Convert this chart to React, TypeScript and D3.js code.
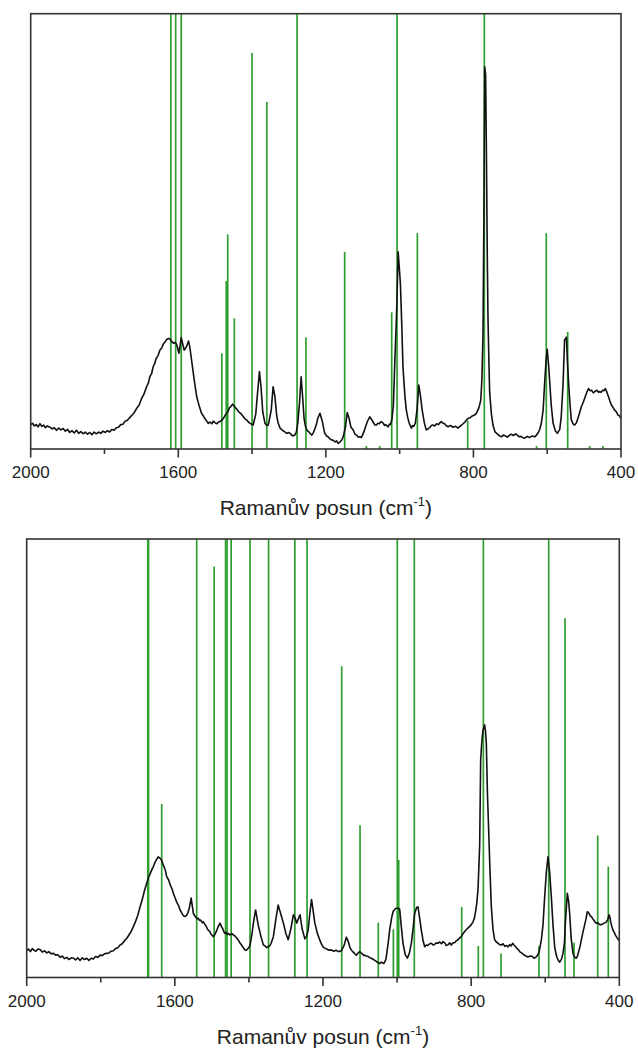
import React from "react";
import * as d3 from "d3";

// ---------- data ----------
const xTicksMajor = [2000, 1600, 1200, 800, 400];
const xTicksMinor = [1800, 1400, 1000, 600];
const axisTitle = "Ramanův posun (cm";
const axisTitleSup = "-1";

// top panel: measured spectrum [wavenumber, intensity]
const topSpectrum: [number, number][] = [
  [2000,5.6],[1995,5.9],[1990,5.3],[1985,5.6],[1980,5.1],[1975,5.8],[1970,5.2],[1965,5.5],[1960,4.9],[1955,5.3],[1948,5.0],[1942,4.6],[1936,4.9],[1930,4.3],[1924,4.8],[1918,4.4],[1912,4.7],[1906,4.1],[1900,4.5],[1894,3.8],[1888,4.2],[1882,3.7],[1876,4.3],[1870,3.6],[1864,4.0],[1858,3.5],[1852,3.9],[1846,3.4],[1840,3.8],[1834,3.3],[1828,3.9],[1822,3.5],[1816,3.9],[1810,3.6],[1804,4.1],[1798,3.8],[1792,4.2],[1786,3.9],[1780,4.5],[1774,4.3],[1768,4.9],[1762,5.0],[1756,5.6],[1750,5.7],[1744,6.4],[1738,6.6],[1732,7.2],[1725,7.8],[1719,8.4],[1713,9.3],[1706,10.1],[1700,11.5],[1693,12.6],[1686,14.3],[1681,15.2],[1677,16.6],[1672,17.4],[1668,18.9],[1664,19.6],[1660,20.8],[1655,21.4],[1650,22.7],[1645,23.2],[1640,24.2],[1636,24.6],[1631,25.2],[1626,25.4],[1622,25.2],[1617,24.6],[1613,24.3],[1608,24.5],[1604,23.9],[1598,22],[1592,25.6],[1584,22.7],[1578,23.5],[1572,24.8],[1568,23],[1564,20.4],[1557,16],[1550,12],[1543,9.8],[1537,8.2],[1532,7.6],[1528,7],[1523,6.4],[1519,5.9],[1514,6.2],[1509,5.8],[1505,6.4],[1500,6.0],[1495,5.8],[1491,6.2],[1487,6.3],[1482,6.6],[1478,7],[1474,7.6],[1469,8.2],[1465,8.7],[1461,9.5],[1457,9.8],[1453,10.3],[1449,9.9],[1445,9.5],[1441,9.1],[1437,8.6],[1431,8.2],[1425,7.6],[1420,7.0],[1415,6.7],[1410,6.2],[1405,5.9],[1401,5.7],[1397,5.5],[1390,8],[1385,13],[1380,17.8],[1376,14.5],[1371,8.5],[1365,5.9],[1360,5.4],[1356,5.5],[1348,9],[1343,14.3],[1338,12],[1333,7.5],[1329,5.9],[1324,4.8],[1318,4.3],[1312,4.0],[1306,3.6],[1300,3.8],[1295,3.4],[1290,3.0],[1284,3.2],[1280,3.9],[1276,6],[1271,11],[1267,16.6],[1263,12],[1259,7],[1255,5.1],[1251,4.3],[1247,4],[1242,3.5],[1238,3.2],[1234,3.7],[1230,4.6],[1226,5.5],[1222,7],[1216,8.2],[1210,6.5],[1206,4.8],[1203,3.6],[1198,3.0],[1194,2.8],[1190,2.4],[1185,2.1],[1180,2.0],[1175,1.6],[1171,1.9],[1167,1.3],[1163,1.5],[1160,1.8],[1156,2.2],[1153,2.8],[1147,5],[1142,8.4],[1137,7],[1132,5],[1126,4.4],[1121,3.4],[1117,3.2],[1112,2.7],[1108,2.8],[1104,2.6],[1100,3.3],[1095,4.4],[1088,6.2],[1081,7.4],[1077,6.9],[1072,6.2],[1067,5.5],[1063,5.5],[1059,5.9],[1055,5.8],[1050,6.3],[1045,6],[1041,5.4],[1038,5.6],[1034,5.3],[1031,5.1],[1028,5.7],[1025,5.6],[1021,6.7],[1017,10],[1013.5,18.9],[1008,32],[1004,45.3],[998,38.1],[994,28],[991,18.9],[986,12.5],[982,9],[978,7.2],[975,6.2],[971,5.3],[968,4.8],[965,5.4],[962,5.2],[957.5,5.9],[953,9],[948,14.7],[944,12.5],[939,9],[933,6],[928,4.4],[923,4.6],[918,5],[914,5.4],[910,5.5],[905,5.3],[900,5.8],[895,5.6],[891,6.0],[887,6.3],[882,5.9],[878,5.8],[873,5.3],[869,5.1],[862,5.4],[855,5],[848,5.2],[842,4.8],[835,5.3],[828,5.8],[822,6.3],[815,7],[809,7.2],[803,7.6],[797,7.8],[792,8.2],[785,9.5],[780,11.3],[777,16],[774,26.6],[771.5,55],[769.5,87.8],[767,86],[765,70],[762.5,45],[760.5,30],[758,20],[756,13],[751.5,8.2],[747,5.5],[742,4],[737,3.6],[733,3.3],[729,3.0],[724,2.8],[719,3.2],[713,3.0],[708,2.7],[702,3.2],[697,3.4],[692,3.1],[686,3.5],[681,3.2],[676,2.8],[671,2.9],[666,2.6],[661,2.5],[654,2.9],[648,2.6],[641,3.0],[634,2.8],[629,3.2],[624,3.8],[620,4.6],[616,5.9],[611,9],[607,15.1],[603,20.5],[600,22.9],[596,19],[593,15.1],[589,10],[584,5.9],[578,4.2],[572.6,3.6],[566,4.5],[562,7.4],[557,15],[553,25],[548,25.7],[545,20],[542,15.1],[538,10],[534.6,6.7],[530,5.8],[525.6,5.5],[521,6.0],[517,7],[512,8.4],[507.5,9.7],[502,10.8],[497,12],[492,13.2],[488,13.9],[484,13.4],[480,13.5],[475,12.9],[471,13.2],[468,13.4],[465,13.5],[461,13.0],[458,13.2],[454,13.0],[450,13.5],[446,13.4],[442.5,13.9],[438,13.0],[434,12],[430,11.0],[426,10.1],[422,9.6],[418,9],[413,8.6],[408,7.8],[404,7.6],[400,7]
];

// top panel: calculated bands [wavenumber, relative intensity]
const topSticks: [number, number][] = [
  [1620,100],[1607,100],[1592,100],[1482,22.0],[1470,38.6],[1466,49.3],[1448,30.0],[1400,91.0],[1360,79.7],[1278,100],[1254,25.6],[1149,45.3],[1090,0.7],[1054,0.7],[1021.5,31.4],[1007,100],[952,49.6],[815.5,6.5],[770.5,100],[629,0.7],[602.5,49.6],[544.5,26.9],[485,0.7],[449,0.7]
];

// bottom panel: measured spectrum
const bottomSpectrum: [number, number][] = [
  [2000,6.1],[1995,6.5],[1990,5.9],[1985,6.6],[1980,6.2],[1975,6.0],[1970,6.5],[1964,6.4],[1958,5.8],[1952,6.1],[1946,5.6],[1940,5.9],[1934,5.4],[1928,5.5],[1922,5.1],[1916,5.2],[1910,4.6],[1904,4.9],[1898,4.3],[1892,4.6],[1886,4.1],[1880,4.5],[1874,4.4],[1868,4.0],[1862,4.5],[1856,3.9],[1850,4.5],[1844,4.1],[1838,4.4],[1832,3.9],[1826,4.4],[1820,4.2],[1814,4.8],[1808,4.6],[1802,5.1],[1796,5.0],[1790,5.4],[1784,5.5],[1778,5.6],[1772,6.0],[1766,6.1],[1760,6.6],[1754,6.8],[1748,7.4],[1742,7.7],[1736,8.4],[1730,8.9],[1724,9.7],[1718,10.5],[1712,11.6],[1706,12.8],[1700,14.2],[1694,16.1],[1688,17.8],[1682,19.8],[1676,21.5],[1671,22.8],[1666,23.8],[1662,24.6],[1658,25.3],[1654,26.2],[1650,26.8],[1645,27.5],[1640,27.2],[1636,26.8],[1632,25.8],[1628,25],[1625,24.2],[1622,23],[1617,22.3],[1612,21],[1608,20.3],[1604,19.2],[1600,18.3],[1595,17.2],[1590,16.4],[1586,15.4],[1583,15.0],[1580,14.5],[1576,14.0],[1573,13.9],[1569,14.1],[1566,14.5],[1561,15.8],[1556,18.1],[1550,14.6],[1547,14.2],[1544,13.8],[1540,13.4],[1537,13.5],[1533,13.0],[1530,13.1],[1526,12.5],[1523,12.7],[1519,12.1],[1516,11.8],[1513,11.2],[1510,10.8],[1506,10.5],[1503,10],[1499,9.6],[1496,9.3],[1492,9.8],[1488,10.5],[1483,11.6],[1478,12.4],[1474,11.6],[1470,11],[1467,10.3],[1465,10.1],[1461,10.3],[1458,9.8],[1454,10.0],[1451,9.7],[1446,10.0],[1442,9.7],[1438,9.5],[1435,9.2],[1432,8.9],[1429,8.6],[1425,8.0],[1420,7.4],[1415,6.8],[1411,6.3],[1407,6.2],[1404,6.5],[1400,6.8],[1397,7.4],[1392,9.8],[1388,12.4],[1382,15.4],[1378,13.5],[1375,12],[1368,9.5],[1361,7.4],[1356,7.2],[1352,6.8],[1348,7.0],[1344,7.2],[1340,7.8],[1334,9.3],[1327,13.5],[1321,16.5],[1314,14.5],[1307,12.4],[1300,10],[1294,8.6],[1287,11],[1280,14.3],[1275,13.5],[1271,12.4],[1266,13.5],[1262,14.3],[1256,11],[1249,8.8],[1244,9.5],[1240,10.9],[1235,15],[1231,17.8],[1227,15.5],[1222,12.4],[1215,10],[1208,8.4],[1204,7.6],[1200,7.0],[1195,6.7],[1190,6.5],[1184,6.2],[1177.5,6.3],[1171,6.0],[1165,6.2],[1158,5.9],[1150.5,6.1],[1143,7.3],[1137,9.2],[1131,8],[1127,6.8],[1123.5,6.3],[1120,5.9],[1116,5.6],[1113,5.3],[1110,5.1],[1105,5.6],[1101,5.9],[1097,5.6],[1094,5.4],[1090,5.0],[1087.5,5.1],[1083,4.9],[1078,4.8],[1074,4.5],[1069.5,4.4],[1064,4.1],[1058,3.8],[1052,3.4],[1047,3.2],[1043,3.5],[1040,3.4],[1036,3.2],[1033.5,3.5],[1030,4.2],[1027,6],[1023,8.6],[1020,10.8],[1015,13.5],[1011,15],[1006,15.6],[1002,15.8],[997,15.8],[993,15.6],[989,12],[984,7.8],[978,5.2],[972.3,4.4],[967,5.5],[961.5,7.8],[957,11],[952.5,14.6],[947,16],[943.5,16.1],[939,13.5],[934.5,10.8],[930,8.5],[925.5,7.0],[921,7.4],[917,7.3],[912,7.7],[907.5,7.8],[903,7.4],[898,7.6],[894,7.9],[889.5,7.8],[885,8.1],[880,7.7],[876,8.2],[871.5,7.9],[867,7.3],[862,7.5],[858,7.9],[853.5,7.4],[849,7.9],[844,8.0],[840,8.4],[835.5,8.6],[830,9.1],[826,9.4],[822,10.0],[817.5,10.5],[812,11.0],[806,11.5],[800,12.0],[795,12.7],[791,13.6],[788,15],[785,16.8],[781.5,20],[777,30],[774.3,49.6],[771,54],[768,56.4],[763.5,57.6],[761,56],[759,53.4],[756,42],[752.7,33.6],[749,24],[745.5,16.1],[741,11],[736.5,8.6],[732,8.1],[727,7.8],[723,7.5],[718.5,7.4],[714,7.7],[709,7.1],[705,7.3],[700.5,7.0],[696,7.5],[692,7.2],[688,7.8],[684.3,7.4],[680,7.0],[676,6.6],[672,6.3],[669,5.9],[664,5.6],[658,5.2],[652,4.9],[646.5,4.7],[641,4.9],[635,4.8],[630,4.4],[624,4.7],[620,5.2],[616,6],[610.5,8.6],[606,12],[601.5,18.4],[597,24],[592.5,27.5],[588,24],[583.5,18.4],[579,12],[574.5,7.0],[571,5.4],[568,4.5],[564,3.8],[561,3.5],[556,4.2],[552,5.5],[548,8],[545.7,12.4],[540.3,19.2],[537,17.5],[534,14.6],[530,9],[525,5.5],[520,4.6],[516,4.4],[513,4.9],[510,5.8],[506,7.1],[502.5,8.6],[499,10.0],[495,11.5],[490,13.3],[486.3,15],[483,14.8],[481,14.5],[478,14.0],[475.5,13.9],[471,13.3],[468,13],[465,12.6],[462,12.4],[458,12.5],[455,12.2],[451,12.0],[448.5,12.1],[445,12.2],[441,12.4],[438,12.5],[435,12.7],[432,13.1],[430,13.5],[427.8,14.3],[425,13.6],[423,12.6],[420,11.6],[417,10.8],[413,10.2],[410,9.6],[407,9.2],[403.5,8.8],[400,8.4]
];

// bottom panel: calculated bands
const bottomSticks: [number, number][] = [
  [1673,100],[1671,100],[1635.5,39.6],[1541,100],[1494,93.7],[1463,100],[1459,100],[1448,100],[1397,100],[1347,100],[1276,100],[1243,100],[1149.5,71.0],[1100,34.7],[1050.7,12.5],[1010,11],[999.4,100],[995.6,26.8],[953.5,100],[825.5,16.1],[780.7,7.2],[767,100],[719.4,5.5],[616.8,7.2],[590.6,100],[546.6,81.9],[522.3,7.9],[458.3,32.4],[429.7,25.3]
];

// ---------- layout ----------
const panels = [
  { spectrum: topSpectrum, sticks: topSticks, box: { x0: 30.7, x1: 621, y0: 13.7, y1: 449 } },
  { spectrum: bottomSpectrum, sticks: bottomSticks, box: { x0: 26.7, x1: 619.3, y0: 539, y1: 977.5 } },
];

const GREEN = "#2f9e2f";
const FONT = "Arial, 'Liberation Sans', Helvetica, sans-serif";

function Panel({ spectrum, sticks, box }: any) {
  const x = d3.scaleLinear().domain([2000, 400]).range([box.x0, box.x1]);
  const y = d3.scaleLinear().domain([0, 100]).range([box.y1, box.y0]);
  const line = d3
    .line<[number, number]>()
    .x((d) => x(d[0]))
    .y((d) => y(d[1]));
  const cx = (box.x0 + box.x1) / 2;
  return (
    <g>
      {sticks.map((s: [number, number], i: number) => (
        <line
          key={"s" + i}
          x1={x(s[0])}
          x2={x(s[0])}
          y1={y(0)}
          y2={y(s[1])}
          stroke={GREEN}
          strokeWidth={1.7}
        />
      ))}
      <path d={line(spectrum) || ""} fill="none" stroke="#111" strokeWidth={1.6} strokeLinejoin="round" />
      <rect
        x={box.x0}
        y={box.y0}
        width={box.x1 - box.x0}
        height={box.y1 - box.y0}
        fill="none"
        stroke="#333"
        strokeWidth={1.6}
      />
      {xTicksMajor.map((t) => (
        <g key={"M" + t}>
          <line x1={x(t)} x2={x(t)} y1={box.y1} y2={box.y1 + 8.5} stroke="#333" strokeWidth={1.6} />
          <text x={x(t)} y={box.y1 + 29} textAnchor="middle" fontSize={17} fontFamily={FONT} fill="#222">
            {t}
          </text>
        </g>
      ))}
      {xTicksMinor.map((t) => (
        <line key={"m" + t} x1={x(t)} x2={x(t)} y1={box.y1} y2={box.y1 + 5} stroke="#333" strokeWidth={1.6} />
      ))}
      <text x={cx} y={box.y1 + 66} textAnchor="middle" fontSize={21} fontFamily={FONT} fill="#222">
        {axisTitle}
        <tspan fontSize={13} dy={-9}>{axisTitleSup}</tspan>
        <tspan dy={9}>)</tspan>
      </text>
    </g>
  );
}

export default function App() {
  return (
    <svg
      width={638}
      height={1050}
      style={{ position: "absolute", left: 0, top: 0, background: "#fff" }}
    >
      {panels.map((p, i) => (
        <Panel key={i} {...p} />
      ))}
    </svg>
  );
}
